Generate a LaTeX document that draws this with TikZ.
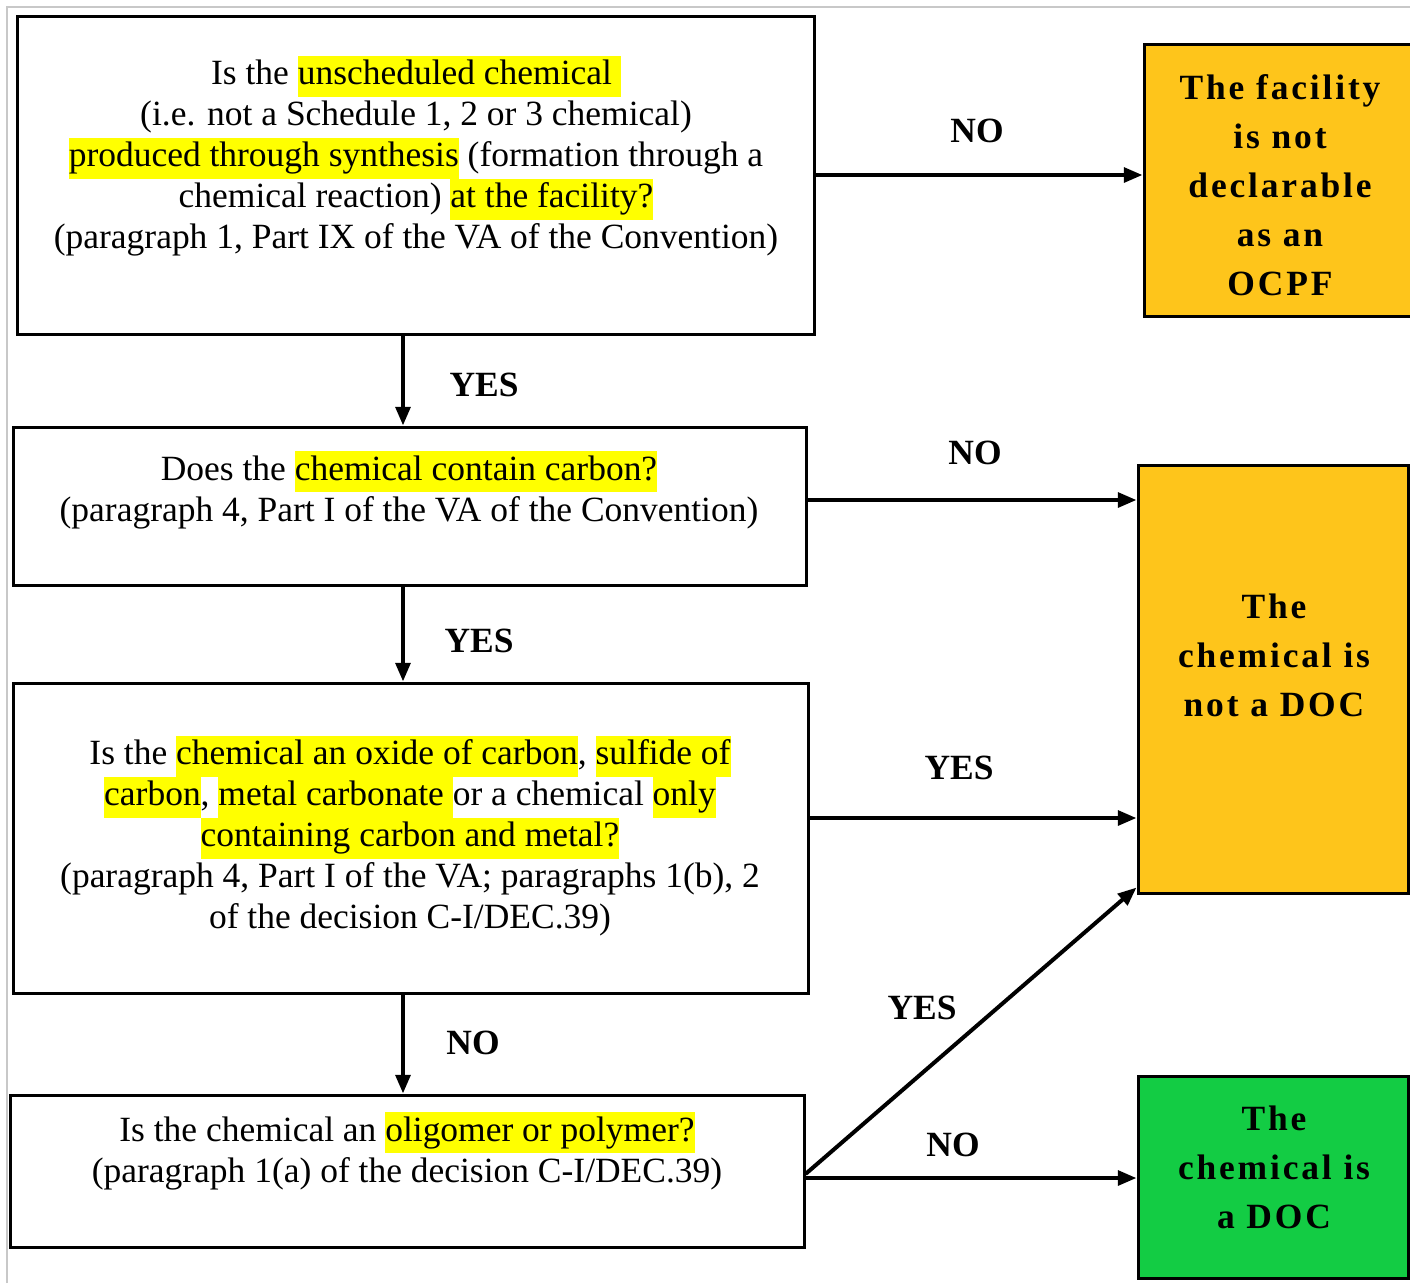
\documentclass[tikz,border=0pt]{standalone}
\usepackage{fontspec}
\setmainfont{Liberation Serif}
\newfontfamily\widefont[LetterSpace=8]{Liberation Serif}
\usetikzlibrary{arrows.meta,calc}
\definecolor{hly}{HTML}{FFFF00}
\definecolor{boxorange}{HTML}{FEC51B}
\definecolor{boxgreen}{HTML}{13CC44}
\definecolor{framegray}{HTML}{C8C8C8}
\newcommand\hlt[1]{{\setlength{\fboxsep}{0pt}\colorbox{hly}{\strut#1}}}
\begin{document}
\begin{tikzpicture}[x=0.75pt,y=-0.75pt,
  qbox/.style={draw,line width=2.25pt,rectangle,inner sep=0pt,fill=white},
  qtext/.style={align=center,font=\fontsize{26.6}{30.75}\selectfont,inner sep=0pt},
  abox/.style={draw,line width=2.25pt,rectangle,inner sep=0pt},
  atext/.style={align=center,font=\widefont\bfseries\fontsize{26.6}{36.75}\selectfont,inner sep=0pt},
  lbl/.style={font=\bfseries\fontsize{26.6}{30}\selectfont,inner sep=0pt},
  conn/.style={line width=3pt,-{Triangle[length=14pt,width=11pt]}}]
\useasboundingbox (0,0) rectangle (1410,1283);
\fill[white] (0,0) rectangle (1410,1283);
\draw[framegray,line width=1.5pt] (7,1283) -- (7,7) -- (1410,7);

% question boxes
\node[qbox,minimum width=597.75pt,minimum height=238.5pt] (b1) at (415.5,175) {};
\node[qbox,minimum width=594.75pt,minimum height=118.5pt] (b2) at (409.5,506) {};
\node[qbox,minimum width=596.25pt,minimum height=232.5pt] (b3) at (410.5,838) {};
\node[qbox,minimum width=595.5pt,minimum height=114pt] (b4) at (407,1171) {};

\node[qtext] (t1) at (416,156) {Is the \hlt{unscheduled chemical }\\ (i.e. not a Schedule 1, 2 or 3 chemical)\\ \hlt{produced through synthesis} (formation through a\\ chemical reaction) \hlt{at the facility?}\\ (paragraph 1, Part IX of the VA of the Convention)};
\node[qtext] (t2) at (409,490) {Does the \hlt{chemical contain carbon?}\\ (paragraph 4, Part I of the VA of the Convention)};
\node[qtext] (t3) at (410,836) {Is the \hlt{chemical an oxide of carbon}, \hlt{sulfide of}\\ \hlt{carbon}, \hlt{metal carbonate }or a chemical \hlt{only}\\ \hlt{containing carbon and metal?}\\ (paragraph 4, Part I of the VA; paragraphs 1(b), 2\\ of the decision C-I/DEC.39)};
\node[qtext] (t4) at (407,1151) {Is the chemical an \hlt{oligomer or polymer?}\\ (paragraph 1(a) of the decision C-I/DEC.39)};

% answer boxes
\node[abox,fill=boxorange,minimum width=203.25pt,minimum height=204pt] (r1) at (1279.5,180) {};
\node[abox,fill=boxorange,minimum width=202.5pt,minimum height=321pt] (r2) at (1273,679) {};
\node[abox,fill=boxgreen,minimum width=202.5pt,minimum height=151.5pt] (r3) at (1273,1177) {};

\node[atext] (s1) at (1280,185) {The facility\\ is not\\ declarable\\ as an\\ OCPF};
\node[atext] (s2) at (1274,655) {The\\ chemical is\\ not a DOC};
\node[atext] (s3) at (1274,1167) {The\\ chemical is\\ a DOC};

% helper coordinates
\coordinate (vx) at (403,0);
\coordinate (h2) at (0,500);
\coordinate (h3) at (0,818);
\coordinate (h4) at (0,1178);
\coordinate (h5) at (0,1174);

% connectors
\draw[conn] (b1.east) -- (b1.east -| r1.west);
\draw[conn] (b1.south -| vx) -- (b2.north -| vx);
\draw[conn] (b2.east |- h2) -- (r2.west |- h2);
\draw[conn] (b2.south -| vx) -- (b3.north -| vx);
\draw[conn] (b3.east |- h3) -- (r2.west |- h3);
\draw[conn] (b3.south -| vx) -- (b4.north -| vx);
\draw[conn] (b4.east |- h5) -- ($(r2.south west)+(0,-7)$);
\draw[conn] (b4.east |- h4) -- (r3.west |- h4);

% labels
\node[lbl] (n1) at (977,131) {NO};
\node[lbl] (y1) at (484,385) {YES};
\node[lbl] (n2) at (975,453) {NO};
\node[lbl] (y2) at (479,641) {YES};
\node[lbl] (y3) at (959,768) {YES};
\node[lbl] (n3) at (473,1043) {NO};
\node[lbl] (y4) at (922,1008) {YES};
\node[lbl] (n4) at (953,1145) {NO};
\end{tikzpicture}
\end{document}
